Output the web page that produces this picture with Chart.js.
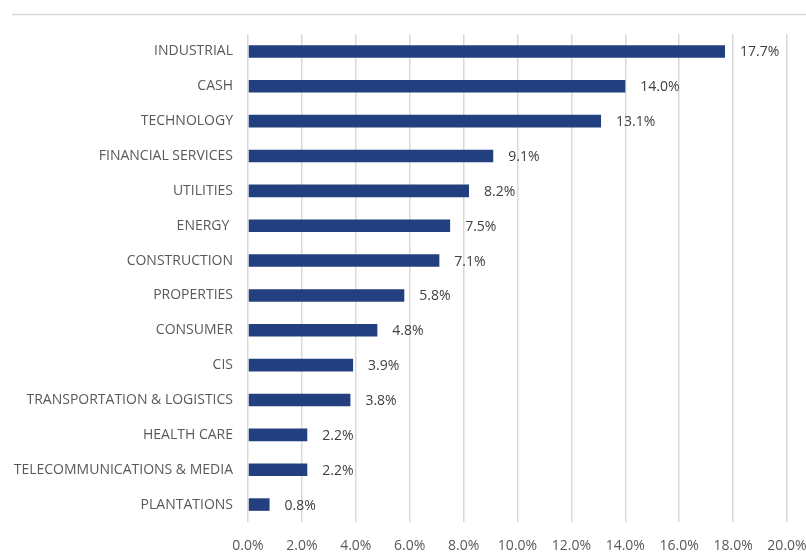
<!DOCTYPE html>
<html>
<head>
<meta charset="utf-8">
<script src="https://cdn.jsdelivr.net/npm/chart.js@4"></script>
<style>
  html, body { margin: 0; padding: 0; background: #ffffff; }
  #wrap { position: relative; width: 806px; height: 552px; }
</style>
</head>
<body>
<div id="wrap"><canvas id="sectorChart"></canvas></div>
<script>
// Sector weights (percent)
const sectors = [
    'INDUSTRIAL', 'CASH', 'TECHNOLOGY', 'FINANCIAL SERVICES', 'UTILITIES',
    'ENERGY ', 'CONSTRUCTION', 'PROPERTIES', 'CONSUMER', 'CIS',
    'TRANSPORTATION & LOGISTICS', 'HEALTH CARE', 'TELECOMMUNICATIONS & MEDIA', 'PLANTATIONS'
];
const weights = [17.7, 14.0, 13.1, 9.1, 8.2, 7.5, 7.1, 5.8, 4.8, 3.9, 3.8, 2.2, 2.2, 0.8];
const axisMin = 0;
const axisMax = 20;
const axisStep = 2;

const fontFamily = "'Open Sans', 'Liberation Sans', sans-serif";

// Etichette dei valori a destra delle barre + linea superiore
const valueLabels = {
    id: 'valueLabels',
    beforeDraw(chart) {
        const c = chart.ctx;
        c.save();
        c.strokeStyle = '#d9d9d9';
        c.lineWidth = 1.5;
        c.beginPath();
        c.moveTo(12, 14.5);
        c.lineTo(chart.width, 14.5);
        c.stroke();
        c.restore();
    },
    afterDatasetsDraw(chart) {
        const c = chart.ctx;
        const meta = chart.getDatasetMeta(0);
        c.save();
        c.font = '14px ' + fontFamily;
        c.fillStyle = '#404040';
        c.textAlign = 'left';
        c.textBaseline = 'middle';
        meta.data.forEach((bar, i) => {
            c.fillText(weights[i].toFixed(1) + '%', bar.x + 15, bar.y + 1);
        });
        c.restore();
    }
};

new Chart(document.getElementById('sectorChart'), {
    type: 'bar',
    data: {
        labels: sectors,
        datasets: [{
            data: weights,
            backgroundColor: '#22407f',
            borderWidth: 0,
            categoryPercentage: 1.0,
            barPercentage: 0.36
        }]
    },
    options: {
        indexAxis: 'y',
        responsive: true,
        maintainAspectRatio: false,
        animation: false,
        layout: { padding: { top: 34, right: 0, bottom: 0, left: 0 } },
        plugins: {
            legend: { display: false },
            tooltip: { enabled: false }
        },
        scales: {
            x: {
                min: axisMin,
                max: axisMax,
                afterFit(scale) {
                    scale.height = 30;
                    scale.paddingLeft = 0;
                    scale.paddingRight = 19;
                },
                grid: { color: '#d9d9d9', lineWidth: 1.5, drawTicks: false },
                border: { display: false },
                ticks: {
                    stepSize: axisStep,
                    padding: 16,
                    color: '#595959',
                    font: { family: fontFamily, size: 14 },
                    callback: v => v.toFixed(1) + '%'
                }
            },
            y: {
                afterFit(scale) { scale.width = 248; },
                grid: { display: false, drawTicks: false },
                border: { display: false },
                ticks: {
                    padding: 15,
                    color: '#595959',
                    font: { family: fontFamily, size: 14 }
                }
            }
        }
    },
    plugins: [valueLabels]
});
</script>
</body>
</html>
